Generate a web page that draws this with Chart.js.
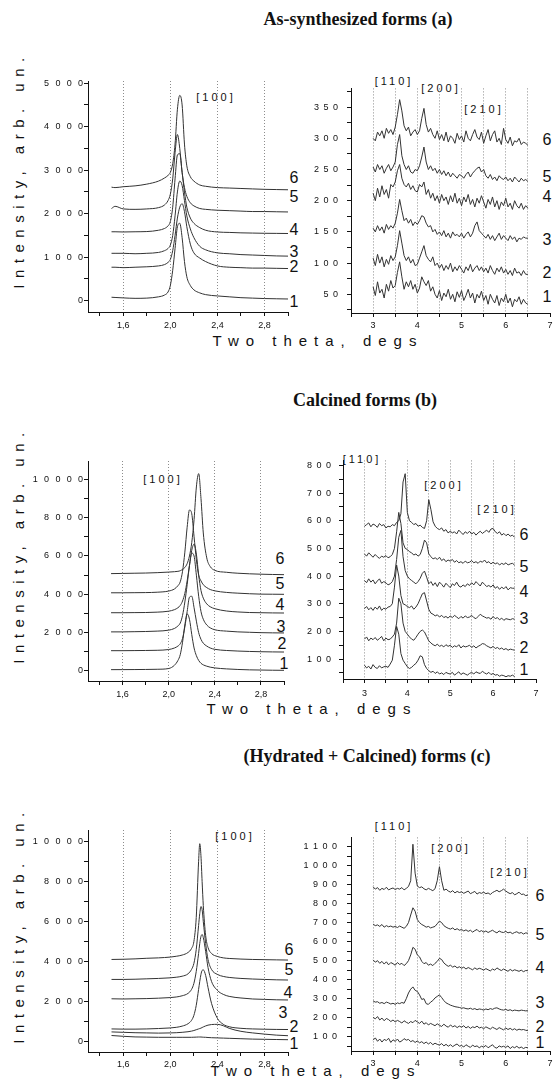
<!DOCTYPE html>
<html>
<head>
<meta charset="utf-8">
<script src="https://cdn.jsdelivr.net/npm/chart.js@4.4.1/dist/chart.umd.min.js"></script>
<style>
  html, body { margin: 0; padding: 0; background: #fff; }
  body { width: 555px; height: 1083px; position: relative; overflow: hidden;
         font-family: "Liberation Sans", Arial, sans-serif; color: #111; }
  canvas { position: absolute; }
  .t { position: absolute; white-space: nowrap; transform: translate(-50%, -50%); line-height: 1; }
  .title { font: bold 18px "Liberation Serif", "Times New Roman", serif; }
  .ytitle { font-size: 15px; letter-spacing: 6.5px; transform: translate(-50%, -50%) rotate(-90deg); }
  .xtitle { font-size: 15px; letter-spacing: 7px; }
  .hkl { font-size: 11px; letter-spacing: 3px; }
  .num { font-size: 16px; }
</style>
</head>
<body>

<div class="t title" style="left:358px;top:19px">As-synthesized forms (a)</div>
<div class="t title" style="left:365px;top:400px">Calcined forms (b)</div>
<div class="t title" style="left:367px;top:756px">(Hydrated + Calcined) forms (c)</div>

<div class="t ytitle" style="left:18px;top:170px">Intensity, arb. un.</div>
<div class="t ytitle" style="left:18px;top:545px">Intensity, arb. un.</div>
<div class="t ytitle" style="left:18px;top:925px">Intensity, arb. un.</div>

<div class="t xtitle" style="left:318px;top:340px">Two theta, degs</div>
<div class="t xtitle" style="left:312px;top:708px">Two theta, degs</div>
<div class="t xtitle" style="left:316px;top:1070px">Two theta, degs</div>

<div id="labels"></div>

<script>
// ---- x grids (two theta, degs) ----
const xLeftA = [1.5, 1.53, 1.6, 1.7, 1.8, 1.9, 1.95, 1.98, 2.0, 2.02, 2.04, 2.06, 2.08, 2.10,
  2.12, 2.14, 2.17, 2.2, 2.25, 2.3, 2.4, 2.5, 2.6, 2.7, 2.8, 2.9, 3.0];
const xLeftB = [1.5, 1.6, 1.7, 1.8, 1.9, 2.0, 2.05, 2.08, 2.1, 2.12, 2.14, 2.16, 2.18, 2.2,
  2.22, 2.24, 2.26, 2.28, 2.3, 2.33, 2.36, 2.4, 2.5, 2.6, 2.7, 2.8, 2.9, 3.0];
const xLeftC = [1.5, 1.6, 1.7, 1.8, 1.9, 2.0, 2.05, 2.1, 2.15, 2.18, 2.2, 2.22, 2.24, 2.25,
  2.26, 2.27, 2.28, 2.3, 2.32, 2.35, 2.4, 2.45, 2.5, 2.6, 2.7, 2.8, 2.9, 3.0];
const xRight = [
  3.00, 3.05, 3.10, 3.15, 3.20, 3.25, 3.30, 3.35, 3.40, 3.45,
  3.50, 3.55, 3.60, 3.65, 3.70, 3.75, 3.80, 3.85, 3.90, 3.95,
  4.00, 4.05, 4.10, 4.15, 4.20, 4.25, 4.30, 4.35, 4.40, 4.45,
  4.50, 4.55, 4.60, 4.65, 4.70, 4.75, 4.80, 4.85, 4.90, 4.95,
  5.00, 5.05, 5.10, 5.15, 5.20, 5.25, 5.30, 5.35, 5.40, 5.45,
  5.50, 5.55, 5.60, 5.65, 5.70, 5.75, 5.80, 5.85, 5.90, 5.95,
  6.00, 6.05, 6.10, 6.15, 6.20, 6.25, 6.30, 6.35, 6.40, 6.45,
  6.50];

// ---- (a) as-synthesized, [100] region ----
const a1L = [80, 75, 65, 55, 60, 90, 130, 200, 350, 700, 1200, 1700, 1780, 1450, 900, 550, 350, 250, 180, 140, 110, 90, 70, 60, 50, 45, 40];
const a2L = [770, 770, 760, 770, 780, 800, 830, 880, 950, 1150, 1500, 1900, 2150, 2230, 2050, 1700, 1300, 1100, 980, 900, 800, 770, 760, 750, 750, 745, 740];
const a3L = [1090, 1090, 1090, 1080, 1090, 1110, 1150, 1200, 1280, 1500, 1950, 2500, 2750, 2650, 2300, 1950, 1650, 1450, 1250, 1170, 1100, 1080, 1060, 1050, 1040, 1030, 1025];
const a4L = [1585, 1585, 1580, 1585, 1590, 1620, 1660, 1720, 1820, 2150, 2800, 3350, 3380, 2950, 2500, 2150, 1900, 1780, 1680, 1620, 1580, 1570, 1560, 1555, 1550, 1548, 1545];
const a5L = [2120, 2170, 2110, 2100, 2110, 2140, 2200, 2300, 2450, 2800, 3400, 3820, 3500, 2950, 2600, 2400, 2250, 2180, 2120, 2100, 2080, 2070, 2060, 2050, 2050, 2045, 2040];
const a6L = [2610, 2600, 2620, 2640, 2680, 2750, 2820, 2880, 2950, 3150, 3600, 4400, 4720, 4500, 3600, 3100, 2850, 2750, 2660, 2630, 2600, 2590, 2580, 2570, 2560, 2555, 2550];

// ---- (a) as-synthesized, [110]/[200]/[210] region ----
const a1R = [62, 48, 70, 52, 58, 44, 66, 55, 72, 60,
  64, 85, 102, 78, 58, 70, 62, 72, 58, 66,
  52, 60, 78, 70, 64, 72, 55, 62, 50, 44,
  56, 40, 52, 46, 58, 42, 50, 38, 54, 45,
  56, 40, 48, 58, 44, 52, 36, 50, 44, 55,
  40, 48, 34, 50, 42, 36, 48, 32, 44, 38,
  50, 36, 44, 30, 42, 38, 46, 34, 42, 36,
  34];
const a2R = [108, 96, 114, 100, 110, 94, 106, 98, 112, 104,
  110, 128, 152, 132, 112, 104, 110, 100, 106, 96,
  98, 108, 118, 128, 112, 106, 102, 110, 96, 100,
  92, 98, 88, 96, 90, 100, 86, 94, 88, 96,
  90, 84, 94, 88, 98, 86, 92, 96, 88, 94,
  86, 92, 84, 96, 88, 82, 92, 86, 94, 84,
  90, 82, 88, 80, 92, 84, 86, 80, 88, 82,
  82];
const a3R = [156, 150, 160, 152, 158, 148, 162, 154, 160, 156,
  164, 180, 202, 184, 168, 172, 164, 170, 160, 166,
  162, 168, 176, 174, 164, 158, 160, 150, 154, 146,
  150, 144, 152, 142, 148, 140, 150, 144, 146, 142,
  148, 140, 146, 150, 142, 148, 160, 166, 152, 148,
  144, 140, 146, 138, 144, 136, 142, 148, 138, 144,
  140, 136, 144, 138, 142, 134, 140, 138, 142, 140,
  140];
const a4R = [212, 200, 220, 206, 224, 210, 218, 204, 226, 222,
  230, 248, 258, 236, 226, 222, 228, 218, 224, 216,
  214, 226, 222, 230, 210, 218, 204, 212, 200, 208,
  196, 210, 200, 206, 194, 208, 198, 212, 196, 204,
  192, 206, 198, 210, 194, 202, 190, 204, 196, 208,
  198, 188, 202, 194, 206, 190, 200, 186, 198, 192,
  204, 190, 196, 186, 200, 192, 188, 196, 186, 192,
  188];
const a5R = [254, 246, 258, 250, 256, 244, 252, 258, 248, 254,
  262, 290, 306, 272, 258, 250, 256, 246, 244, 250,
  248, 256, 270, 286, 262, 250, 256, 248, 252, 244,
  250, 242, 248, 240, 246, 238, 244, 240, 236, 242,
  240, 236, 242, 246, 238, 244, 248, 252, 254, 246,
  250, 240, 236, 242, 234, 238, 232, 240, 236, 234,
  238, 232, 236, 230, 238, 234, 230, 236, 232, 234,
  231];
const a6R = [300, 296, 310, 304, 312, 300, 316, 308, 314, 306,
  318, 338, 362, 344, 320, 312, 318, 304, 310, 314,
  306, 312, 332, 348, 322, 310, 316, 306, 300, 312,
  298, 306, 296, 310, 294, 304, 300, 292, 308, 298,
  304, 294, 312, 300, 296, 306, 314, 302, 298, 310,
  292, 304, 314, 296, 306, 312, 294, 300, 290, 316,
  298, 292, 302, 288, 296, 294, 300, 290, 294, 292,
  289];

// ---- (b) calcined, [100] region ----
const b1L = [70, 72, 75, 80, 90, 130, 300, 550, 850, 1500, 2400, 2980, 2700, 1900, 1200, 800, 550, 400, 320, 250, 200, 160, 110, 80, 60, 50, 40, 35];
const b2L = [1060, 1060, 1065, 1070, 1080, 1120, 1200, 1300, 1420, 1700, 2300, 3100, 3850, 3900, 3300, 2600, 2000, 1650, 1450, 1300, 1200, 1130, 1070, 1040, 1020, 1005, 995, 990];
const b3L = [2040, 2040, 2050, 2060, 2080, 2130, 2220, 2350, 2500, 2900, 3600, 4500, 5500, 6150, 6000, 5000, 3900, 3100, 2700, 2400, 2250, 2150, 2080, 2040, 2020, 2000, 1990, 1985];
const b4L = [3040, 3040, 3045, 3050, 3070, 3120, 3200, 3300, 3420, 3650, 4050, 4700, 5500, 6300, 6620, 6100, 5000, 4200, 3800, 3500, 3350, 3250, 3130, 3080, 3050, 3040, 3030, 3025];
const b5L = [4080, 4080, 4085, 4090, 4110, 4170, 4280, 4450, 4650, 5200, 6200, 7500, 8400, 8200, 7000, 5800, 5000, 4700, 4500, 4350, 4250, 4180, 4100, 4060, 4030, 4010, 4005, 4000];
const b6L = [5080, 5090, 5100, 5110, 5130, 5160, 5180, 5200, 5230, 5300, 5400, 5600, 6000, 6700, 7900, 9600, 10300, 9000, 7200, 5900, 5450, 5250, 5150, 5100, 5070, 5050, 5035, 5025];

// ---- (b) calcined, [110]/[200]/[210] region ----
const b1R = [78, 68, 74, 64, 80, 70, 66, 76, 68, 72,
  74, 70, 82, 96, 150, 218, 190, 120, 96, 84,
  72, 66, 70, 78, 84, 96, 112, 108, 80, 66,
  58, 52, 56, 48, 54, 46, 50, 44, 52, 48,
  46, 52, 42, 48, 54, 44, 50, 46, 42, 48,
  52, 46, 54, 50, 48, 56, 50, 46, 52, 44,
  48, 42, 44, 38, 42, 40, 36, 40, 38, 42,
  37];
const b2R = [172, 180, 166, 176, 170, 178, 168, 174, 182, 166,
  176, 170, 172, 180, 190, 230, 320, 300, 230, 200,
  190, 180, 172, 168, 178, 190, 200, 205, 198, 182,
  166, 158, 152, 148, 154, 146, 150, 144, 152, 146,
  150, 142, 148, 144, 152, 140, 148, 144, 146, 150,
  142, 148, 140, 146, 150, 156, 154, 148, 144, 140,
  146, 138, 142, 136, 140, 134, 138, 132, 136, 134,
  132];
const b3R = [282, 290, 278, 286, 276, 288, 280, 292, 276, 284,
  280, 288, 290, 300, 360, 440, 400, 330, 300, 296,
  290, 286, 292, 280, 288, 300, 318, 336, 340, 310,
  280, 266, 262, 256, 260, 252, 258, 250, 254, 248,
  256, 250, 258, 252, 246, 254, 248, 256, 250, 252,
  258, 250, 246, 254, 262, 256, 252, 248, 250, 244,
  254, 246, 250, 242, 248, 240, 246, 244, 242, 246,
  244];
const b4R = [384, 376, 390, 378, 386, 372, 382, 390, 374, 380,
  376, 368, 372, 380, 400, 460, 540, 565, 470, 420,
  400, 390, 384, 378, 372, 380, 392, 410, 418, 396,
  372, 380, 366, 376, 362, 378, 370, 360, 374, 366,
  358, 372, 366, 378, 364, 360, 368, 362, 372, 366,
  376, 368, 380, 372, 364, 378, 370, 362, 366, 360,
  368, 356, 362, 352, 360, 354, 362, 350, 358, 356,
  356];
const b5R = [480, 472, 484, 476, 468, 478, 470, 464, 472, 468,
  474, 466, 470, 478, 500, 560, 630, 590, 520, 500,
  496, 488, 484, 476, 480, 472, 478, 500, 530, 520,
  480, 470, 462, 466, 460, 468, 456, 462, 452, 458,
  454, 460, 450, 456, 448, 452, 446, 454, 448, 450,
  456, 448, 452, 446, 454, 450, 458, 448, 452, 444,
  450, 444, 448, 440, 446, 442, 448, 440, 444, 446,
  440];
const b6R = [580, 586, 592, 578, 588, 584, 576, 590, 582, 586,
  574, 580, 578, 586, 582, 594, 600, 625, 740, 770,
  630, 600, 594, 586, 590, 580, 584, 576, 572, 600,
  676, 640, 596, 580, 572, 568, 574, 562, 568, 556,
  562, 556, 560, 552, 566, 558, 550, 560, 554, 562,
  552, 558, 548, 556, 562, 554, 560, 566, 558, 570,
  572, 560, 554, 560, 548, 554, 546, 552, 544, 548,
  540];

// ---- (c) hydrated + calcined, [100] region ----
const c1L = [290, 250, 220, 210, 200, 200, 200, 200, 200, 200, 205, 210, 215, 215, 215, 210, 205, 200, 190, 180, 170, 160, 150, 130, 110, 100, 90, 80];
const c2L = [470, 450, 430, 420, 410, 420, 430, 450, 480, 510, 540, 580, 620, 640, 660, 690, 720, 770, 810, 840, 850, 780, 650, 500, 420, 360, 310, 280];
const c3L = [620, 610, 610, 620, 640, 670, 700, 760, 880, 1050, 1300, 1800, 2600, 3000, 3350, 3550, 3580, 3300, 2700, 1900, 1150, 850, 730, 650, 620, 605, 595, 590];
const c4L = [2130, 2120, 2130, 2140, 2160, 2190, 2220, 2280, 2400, 2600, 2900, 3500, 4400, 4900, 5250, 5350, 5200, 4500, 3700, 3000, 2550, 2350, 2250, 2170, 2120, 2100, 2080, 2070];
const c5L = [3100, 3100, 3110, 3130, 3150, 3180, 3210, 3260, 3380, 3600, 3900, 4600, 5800, 6400, 6750, 6600, 6000, 4900, 4100, 3600, 3350, 3250, 3200, 3150, 3120, 3100, 3080, 3070];
const c6L = [4100, 4110, 4130, 4160, 4180, 4220, 4260, 4320, 4450, 4650, 5000, 6200, 9000, 9900, 9300, 8000, 6800, 5300, 4700, 4400, 4250, 4180, 4150, 4120, 4100, 4090, 4080, 4070];

// ---- (c) hydrated + calcined, [110]/[200]/[210] region ----
const c1R = [82, 94, 76, 88, 72, 86, 80, 92, 70, 84,
  76, 88, 72, 78, 90, 82, 86, 74, 80, 70,
  78, 68, 74, 64, 72, 62, 70, 58, 66, 60,
  56, 64, 52, 60, 50, 58, 48, 56, 62, 50,
  54, 46, 58, 50, 44, 56, 48, 52, 42, 50,
  46, 54, 42, 50, 58, 44, 40, 52, 46, 50,
  44, 52, 38, 48, 42, 50, 40, 46, 38, 44,
  42];
const c2R = [202, 194, 206, 188, 198, 184, 196, 190, 180, 188,
  178, 186, 180, 172, 184, 176, 170, 180, 174, 186,
  178, 170, 182, 166, 174, 162, 170, 164, 158, 168,
  160, 154, 166, 156, 150, 162, 152, 158, 148, 156,
  150, 158, 146, 154, 144, 152, 148, 156, 146, 150,
  142, 152, 146, 140, 150, 144, 138, 148, 142, 136,
  146, 138, 144, 136, 142, 134, 140, 136, 138, 134,
  132];
const c3R = [288, 282, 284, 276, 280, 274, 282, 278, 272, 276,
  270, 278, 274, 280, 276, 300, 330, 350, 362, 344,
  338, 320, 296, 300, 274, 270, 282, 290, 304, 312,
  320, 306, 290, 278, 272, 266, 262, 258, 256, 254,
  250, 252, 248, 246, 250, 244, 248, 242, 246, 244,
  240, 246, 242, 248, 244, 250, 252, 246, 242, 240,
  244, 238, 242, 236, 240, 238, 236, 240, 238, 236,
  237];
const c4R = [504, 492, 500, 486, 496, 482, 494, 478, 490, 484,
  476, 490, 480, 486, 474, 484, 500, 530, 570, 560,
  530, 520, 496, 484, 490, 476, 482, 474, 486, 496,
  512, 506, 488, 478, 470, 476, 466, 472, 462, 468,
  460, 466, 456, 464, 458, 452, 462, 454, 460, 456,
  450, 458, 452, 446, 456, 450, 462, 454, 448, 456,
  450, 444, 454, 446, 452, 448, 444, 450, 442, 448,
  447];
const c5R = [692, 684, 688, 680, 690, 676, 684, 678, 682, 676,
  680, 674, 682, 676, 670, 680, 700, 740, 778, 760,
  716, 700, 690, 684, 676, 680, 672, 676, 680, 694,
  708, 700, 684, 676, 670, 666, 672, 662, 668, 660,
  664, 656, 662, 654, 660, 650, 658, 664, 652, 658,
  650, 656, 648, 654, 660, 652, 646, 656, 650, 648,
  654, 646, 650, 642, 648, 652, 644, 648, 640, 646,
  644];
const c6R = [888, 876, 884, 870, 880, 874, 886, 872, 878, 882,
  874, 880, 876, 884, 872, 880, 890, 920, 1112, 960,
  892, 884, 888, 878, 872, 880, 874, 868, 878, 920,
  994, 920, 870, 876, 866, 860, 868, 856, 864, 858,
  862, 854, 860, 866, 852, 858, 864, 850, 858, 854,
  860, 852, 856, 848, 858, 864, 870, 862, 868, 876,
  866, 858, 852, 858, 846, 852, 860, 848, 850, 842,
  845];

// ---- ticks ----
const xTicksLeft = [1.4, 1.6, 1.8, 2.0, 2.2, 2.4, 2.6, 2.8, 3.0];
const xLabelsLeft = [1.6, 2.0, 2.4, 2.8];
const xTicksRight = [2.5, 3, 3.5, 4, 4.5, 5, 5.5, 6, 6.5, 7];
const xLabelsRight = [3, 4, 5, 6, 7];
const xGridRight = [3, 3.5, 4, 4.5, 5, 5.5, 6, 6.5];
const yTicksAL = [0, 500, 1000, 1500, 2000, 2500, 3000, 3500, 4000, 4500, 5000];
const yLabelsAL = [0, 1000, 2000, 3000, 4000, 5000];
const yTicksAR = [25, 50, 75, 100, 125, 150, 175, 200, 225, 250, 275, 300, 325, 350, 375];
const yLabelsAR = [50, 100, 150, 200, 250, 300, 350];
const yTicksBL = [0, 1000, 2000, 3000, 4000, 5000, 6000, 7000, 8000, 9000, 10000];
const yLabelsBL = [0, 2000, 4000, 6000, 8000, 10000];
const yTicksBR = [50, 100, 150, 200, 250, 300, 350, 400, 450, 500, 550, 600, 650, 700, 750, 800];
const yLabelsBR = [100, 200, 300, 400, 500, 600, 700, 800];
const yTicksCR = [50, 100, 150, 200, 250, 300, 350, 400, 450, 500, 550, 600, 650, 700, 750, 800, 850, 900, 950, 1000, 1050, 1100];
const yLabelsCR = [100, 200, 300, 400, 500, 600, 700, 800, 900, 1000, 1100];

const FONT = '"Liberation Sans", Arial, sans-serif';
const comma = v => v.toFixed(1).replace('.', ',');
const spaced = (s, sep) => String(s).split('').join(sep);
const WIDE = '\u2002\u2009';
const NARROW = '\u2002';

// box = [left, top, right, bottom] of the plot area in page pixels
const panels = [
  { box: [88, 81, 288, 312], xr: [1.3, 3.0], yr: [-259, 5050], xs: xLeftA, ys: [a1L, a2L, a3L, a4L, a5L, a6L],
    smooth: true, xt: xTicksLeft, xl: xLabelsLeft, xg: xLabelsLeft, xfmt: comma,
    yt: yTicksAL, yl: yLabelsAL, sep: WIDE, ypad: 1, xpad: 4 },
  { box: [351, 84, 550, 313], xr: [2.5, 7], yr: [20, 380], xs: xRight, ys: [a1R, a2R, a3R, a4R, a5R, a6R],
    smooth: false, xt: xTicksRight, xl: xLabelsRight, xg: xGridRight, xfmt: String,
    yt: yTicksAR, yl: yLabelsAR, sep: NARROW, ypad: 9, xpad: 3 },
  { box: [88, 461, 284, 681], xr: [1.3, 3.0], yr: [-522, 10955], xs: xLeftB, ys: [b1L, b2L, b3L, b4L, b5L, b6L],
    smooth: true, xt: xTicksLeft, xl: xLabelsLeft, xg: xLabelsLeft, xfmt: comma,
    yt: yTicksBL, yl: yLabelsBL, sep: WIDE, ypad: 1, xpad: 4 },
  { box: [343, 457, 536, 679], xr: [2.5, 7], yr: [28, 818], xs: xRight, ys: [b1R, b2R, b3R, b4R, b5R, b6R],
    smooth: false, xt: xTicksRight, xl: xLabelsRight, xg: xGridRight, xfmt: String,
    yt: yTicksBR, yl: yLabelsBR, sep: NARROW, ypad: 8, xpad: 5 },
  { box: [88, 830, 288, 1052], xr: [1.3, 3.0], yr: [-536, 10586], xs: xLeftC, ys: [c1L, c2L, c3L, c4L, c5L, c6L],
    smooth: true, xt: xTicksLeft, xl: xLabelsLeft, xg: xLabelsLeft, xfmt: comma,
    yt: yTicksBL, yl: yLabelsBL, sep: WIDE, ypad: 1, xpad: 3 },
  { box: [351, 832, 550, 1051], xr: [2.5, 7], yr: [25, 1148], xs: xRight, ys: [c1R, c2R, c3R, c4R, c5R, c6R],
    smooth: false, xt: xTicksRight, xl: xLabelsRight, xg: xGridRight, xfmt: String,
    yt: yTicksCR, yl: yLabelsCR, sep: NARROW, ypad: 10, xpad: 3 }
];

const W_Y = 64, H_X = 34, PAD_T = 10, PAD_R = 10;

function makeChart(p) {
  const [l, t, r, b] = p.box;
  const cv = document.createElement('canvas');
  const w = r - l + W_Y + PAD_R, h = b - t + H_X + PAD_T;
  cv.width = w; cv.height = h;
  cv.style.left = (l - W_Y) + 'px';
  cv.style.top = (t - PAD_T) + 'px';
  cv.style.width = w + 'px';
  cv.style.height = h + 'px';
  document.body.appendChild(cv);

  new Chart(cv, {
    type: 'line',
    data: {
      datasets: p.ys.map(ys => ({
        data: p.xs.map((x, i) => ({ x, y: ys[i] })),
        borderColor: '#333',
        borderWidth: 1,
        pointRadius: 0,
        fill: false,
        tension: p.smooth ? 0.4 : 0,
        cubicInterpolationMode: p.smooth ? 'monotone' : 'default'
      }))
    },
    options: {
      responsive: false,
      animation: false,
      devicePixelRatio: 1,
      layout: { padding: { top: PAD_T, right: PAD_R, left: 0, bottom: 0 } },
      plugins: { legend: { display: false }, tooltip: { enabled: false } },
      scales: {
        x: {
          type: 'linear',
          min: p.xr[0],
          max: p.xr[1],
          afterBuildTicks: s => { s.ticks = p.xt.map(v => ({ value: v })); },
          afterFit: s => { s.height = H_X; },
          border: { display: true, color: '#111', width: 1, dash: [1, 2] },
          grid: {
            drawOnChartArea: true,
            color: c => (c.tick && p.xg.includes(c.tick.value)) ? '#8c8c8c' : 'rgba(0,0,0,0)',
            lineWidth: 1,
            tickColor: '#111',
            tickLength: 4
          },
          ticks: {
            autoSkip: false,
            maxRotation: 0,
            padding: p.xpad,
            color: '#111',
            font: { family: FONT, size: 9 },
            callback: v => p.xl.includes(v) ? p.xfmt(v) : ''
          }
        },
        y: {
          type: 'linear',
          min: p.yr[0],
          max: p.yr[1],
          afterBuildTicks: s => { s.ticks = p.yt.map(v => ({ value: v })); },
          afterFit: s => { s.width = W_Y; },
          border: { display: true, color: '#111', width: 1 },
          grid: { drawOnChartArea: false, tickColor: '#111', tickLength: 4 },
          ticks: {
            autoSkip: false,
            padding: p.ypad,
            color: '#111',
            font: { family: FONT, size: 9 },
            callback: v => p.yl.includes(v) ? spaced(v, p.sep) : ''
          }
        }
      }
    }
  });
}

panels.forEach(makeChart);

// ---- text overlays: reflection indices and curve numbers ----
const hkl = [
  ['[100]', 216, 97], ['[110]', 394, 81], ['[200]', 441, 88], ['[210]', 484, 109],
  ['[100]', 163, 479], ['[110]', 362, 459], ['[200]', 444, 485], ['[210]', 497, 509],
  ['[100]', 235, 836], ['[110]', 394, 826], ['[200]', 451, 848], ['[210]', 510, 872]
];
const nums = [
  [294, [178, 197, 230, 252, 267, 302]],
  [547, [140, 177, 197, 240, 273, 297]],
  [[280, 280, 280, 281, 282, 284], [559, 584, 605, 627, 644, 664]],
  [524, [535, 567, 592, 619, 648, 670]],
  [[289, 289, 288, 283, 294, 294], [950, 970, 993, 1013, 1027, 1044]],
  [540, [896, 935, 968, 1003, 1027, 1043]]
];
const holder = document.getElementById('labels');
hkl.forEach(([s, x, y]) => {
  const d = document.createElement('div');
  d.className = 't hkl';
  d.style.left = x + 'px'; d.style.top = y + 'px';
  d.textContent = s;
  holder.appendChild(d);
});
nums.forEach(([xs, ys]) => {
  ys.forEach((y, i) => {
    const d = document.createElement('div');
    d.className = 't num';
    const x = Array.isArray(xs) ? xs[i] : xs;
    d.style.left = x + 'px'; d.style.top = y + 'px';
    d.textContent = String(6 - i);
    holder.appendChild(d);
  });
});
</script>
</body>
</html>
